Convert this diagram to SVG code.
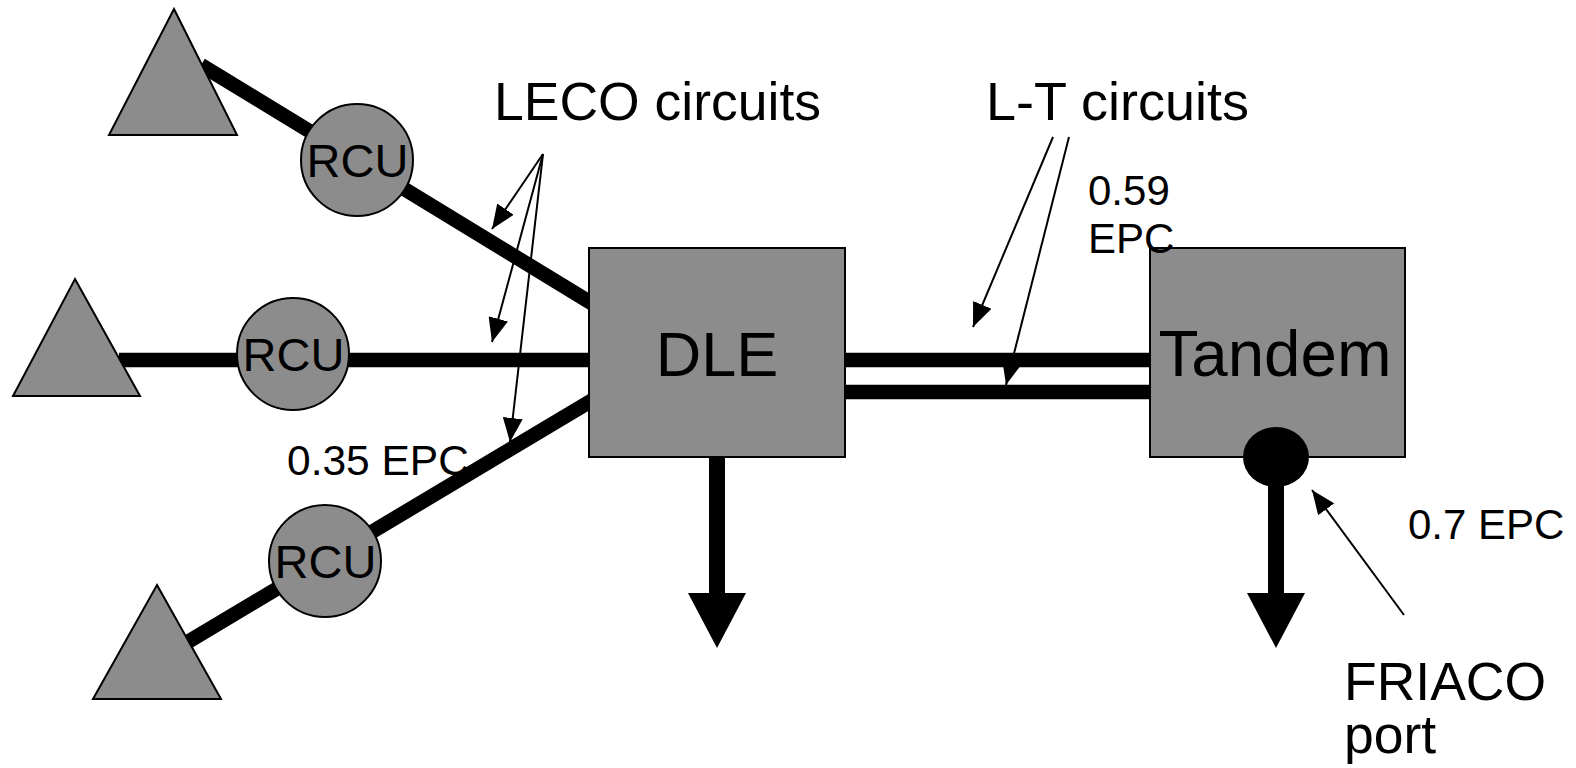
<svg xmlns="http://www.w3.org/2000/svg" width="1576" height="768" viewBox="0 0 1576 768">
<style>
.shape{fill:#8c8c8c;stroke:#000;stroke-width:2}
.thick{stroke:#000;stroke-width:14.5;fill:none}
.thin{stroke:#000;stroke-width:2;fill:none;marker-end:url(#ah)}
text{font-family:"Liberation Sans",Arial,sans-serif;fill:#000}
</style>
<defs>
<marker id="ah" markerUnits="userSpaceOnUse" markerWidth="26" markerHeight="20" refX="24" refY="10" orient="auto">
<path d="M0,0 L24,10 L0,20 Z" fill="#000"/>
</marker>
</defs>
<rect width="1576" height="768" fill="#fff"/>
<g id="connectors">
<line class="thick" x1="201" y1="65" x2="606" y2="312"/>
<line class="thick" x1="119" y1="360" x2="591" y2="360"/>
<line class="thick" x1="606" y1="392" x2="186" y2="643"/>
<line class="thick" x1="845" y1="360" x2="1150" y2="360"/>
<line class="thick" x1="845" y1="392" x2="1150" y2="392"/>
<line stroke="#000" stroke-width="16" x1="717" y1="457" x2="717" y2="598"/>
<polygon points="688,593 746,593 717,648" fill="#000"/>
<line stroke="#000" stroke-width="16" x1="1276" y1="472" x2="1276" y2="598"/>
<polygon points="1247,593 1305,593 1276,648" fill="#000"/>
<line class="thin" x1="543" y1="154" x2="492" y2="229"/>
<line class="thin" x1="543" y1="154" x2="492" y2="342"/>
<line class="thin" x1="543" y1="154" x2="510" y2="442"/>
<line class="thin" x1="1053" y1="137" x2="973" y2="327"/>
<line class="thin" x1="1069" y1="137" x2="1006" y2="385"/>
<line class="thin" x1="1404" y1="615" x2="1312" y2="490"/>
</g>
<g id="tri1"><polygon class="shape" points="174,9 237,135 109,135"/></g>
<g id="tri2"><polygon class="shape" points="75,279 140,396 13,396"/></g>
<g id="tri3"><polygon class="shape" points="157,585 221,699 93,699"/></g>
<g id="rcu1"><circle class="shape" cx="357" cy="160" r="56"/><text x="357.5" y="177" font-size="47" text-anchor="middle">RCU</text></g>
<g id="rcu2"><circle class="shape" cx="293" cy="354" r="56"/><text x="293.5" y="371" font-size="47" text-anchor="middle">RCU</text></g>
<g id="rcu3"><circle class="shape" cx="325" cy="561" r="56"/><text x="325.5" y="578" font-size="47" text-anchor="middle">RCU</text></g>
<g id="dle"><rect class="shape" x="589" y="248" width="256" height="209"/><text x="717" y="376" font-size="63" text-anchor="middle">DLE</text></g>
<g id="tandem"><rect class="shape" x="1150" y="248" width="255" height="209"/><text x="1275" y="376" font-size="65.5" text-anchor="middle">Tandem</text>
<ellipse cx="1276" cy="457" rx="33" ry="30" fill="#000"/></g>
<g id="labels">
<text x="494" y="120" font-size="53.5">LECO circuits</text>
<text x="986" y="119.5" font-size="54">L-T circuits</text>
<text x="1088" y="205" font-size="42">0.59</text>
<text x="1088" y="253" font-size="42">EPC</text>
<text x="287" y="475" font-size="42.5">0.35 EPC</text>
<text x="1408" y="539" font-size="42">0.7 EPC</text>
<text x="1344" y="700" font-size="53.5">FRIACO</text>
<text x="1344" y="753" font-size="53.5">port</text>
</g>
</svg>
